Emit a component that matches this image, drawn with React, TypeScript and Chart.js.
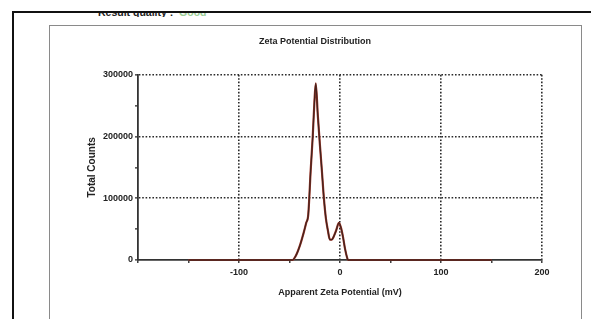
import React, { useEffect, useRef } from "react";
import { Chart, registerables } from "chart.js";

Chart.register(...registerables);

const potentials = [-150, -47, -44, -40, -36, -33.5, -31.4, -29, -27, -25.4, -24, -22, -20, -18, -16, -14, -12, -10, -8, -6.5, -4, -1, 1, 3, 5, 7, 8, 150];
const counts = [0, 0, 6000, 22000, 44000, 60000, 74000, 146000, 200000, 254000, 286000, 235000, 189000, 146000, 101000, 68000, 48000, 33000, 33000, 37000, 47000, 60000, 52000, 37000, 18000, 4000, 0, 0];
const xLabels = [-100, 0, 100, 200];
const yLabels = [0, 100000, 200000, 300000];

const FONT = "'Liberation Sans', Arial, sans-serif";

export default function App() {
  const ref = useRef<HTMLCanvasElement>(null);
  useEffect(() => {
    if (!ref.current) return;
    const pts = potentials.map((x, i) => ({ x, y: counts[i] }));
    const chart = new Chart(ref.current, {
      type: "line",
      data: {
        datasets: [
          {
            data: pts,
            borderColor: "rgba(55,32,28,0.9)",
            borderWidth: 1.3,
            pointRadius: 0,
            clip: false,
            cubicInterpolationMode: "monotone",
          },
          {
            data: pts,
            borderColor: "#a53a2c",
            borderWidth: 2.2,
            pointRadius: 0,
            clip: false,
            cubicInterpolationMode: "monotone",
          },
        ],
      },
      options: {
        animation: false,
        responsive: false,
        layout: { padding: { left: 0, right: 0, top: 0, bottom: 0 } },
        plugins: {
          legend: { display: false },
          tooltip: { enabled: false },
          title: {
            display: true,
            text: "Zeta Potential Distribution",
            color: "#222",
            font: { family: FONT, size: 9, weight: "bold" },
            padding: { top: 10, bottom: 28 },
          },
        },
        scales: {
          x: {
            type: "linear",
            min: -200,
            max: 200,
            afterFit: (s: any) => { s.height = 59; },
            ticks: {
              stepSize: 50,
              autoSkip: false,
              maxRotation: 0,
              padding: 4,
              color: "#222",
              font: { family: FONT, size: 9, weight: "bold" },
              callback: (v: any) => (xLabels.includes(Number(v)) ? String(v) : ""),
            },
            grid: {
              z: -1,
              color: (c: any) => (xLabels.includes(c.tick?.value) ? "#2a2a2a" : "transparent"),
              lineWidth: 1.6,
              tickColor: "#222",
              tickLength: 3,
              tickWidth: 1.3,
            },
            border: { z: -1, display: true, color: "#333", width: 1.8, dash: [1.6, 1.8] },
            title: {
              display: true,
              text: "Apparent Zeta Potential (mV)",
              color: "#222",
              font: { family: FONT, size: 9, weight: "bold" },
              padding: { top: 0, bottom: 21 },
            },
          },
          y: {
            min: 0,
            max: 300000,
            afterFit: (s: any) => { s.width = 88; },
            ticks: {
              stepSize: 50000,
              autoSkip: false,
              padding: 2,
              color: "#222",
              font: { family: FONT, size: 9, weight: "bold" },
              callback: (v: any) => (yLabels.includes(Number(v)) ? String(v) : ""),
            },
            grid: {
              z: -1,
              color: (c: any) => (c.tick && c.tick.value % 100000 === 0 && c.tick.value !== 0 ? "#2a2a2a" : "transparent"),
              lineWidth: 1.6,
              tickColor: "#222",
              tickLength: 3,
              tickWidth: 1.3,
            },
            border: { z: -1, display: true, color: "#333", width: 1.8, dash: [1.6, 1.8] },
            title: {
              display: true,
              text: "Total Counts",
              color: "#222",
              font: { family: FONT, size: 10, weight: "bold" },
              padding: { top: 36, bottom: 0 },
            },
          },
          pad: {
            type: "linear",
            position: "right",
            min: 0,
            max: 1,
            afterFit: (s: any) => { s.width = 38; },
            ticks: { display: false },
            grid: { display: false, drawTicks: false },
            border: { display: false },
          },
        },
      },
    } as any);
    return () => chart.destroy();
  }, []);

  return (
    <div style={{ position: "fixed", left: 0, top: 0, width: 591, height: 319, background: "#fff", overflow: "hidden" }}>
      <div style={{ position: "absolute", left: 98, top: 13, width: 140, height: 4, overflow: "hidden" }}>
        <div style={{ position: "absolute", left: 0, top: -7, whiteSpace: "nowrap", font: `bold 10.5px ${FONT}`, lineHeight: "12px", color: "#222" }}>
          Result quality :&nbsp;&nbsp;<span style={{ color: "#9ccf96" }}>Good</span>
        </div>
      </div>
      <div style={{ position: "absolute", left: 12, top: 11, width: 579, height: 2, background: "#111" }} />
      <div style={{ position: "absolute", left: 12, top: 11, width: 2, height: 308, background: "#111" }} />
      <div style={{ position: "absolute", left: 49, top: 25, width: 533, height: 300, border: "1.5px solid #8a8a8a", boxSizing: "border-box" }} />
      <canvas ref={ref} width={530} height={293} style={{ position: "absolute", left: 50, top: 26, width: 530, height: 293 }} />
    </div>
  );
}
